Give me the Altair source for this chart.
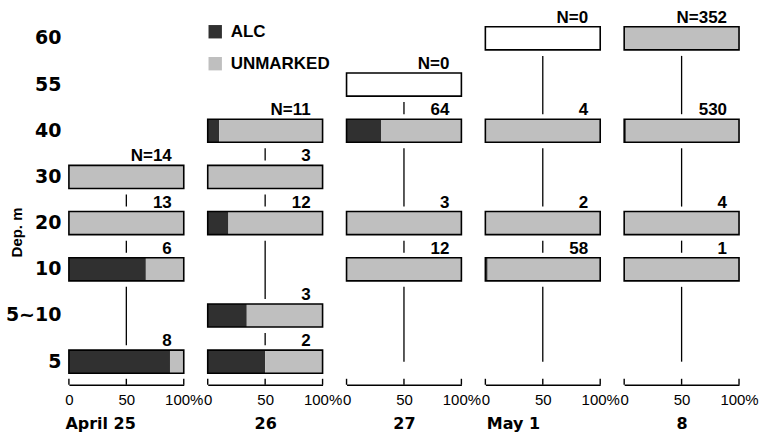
import altair as alt
import pandas as pd

# ---------------- data ----------------
depths = ["60", "55", "40", "30", "20", "10", "5~10", "5"]
types = ["ALC", "UNMARKED"]
x_ticks = [0, 50, 100]

apr25_depth = ["30", "20", "10", "5"]
apr25_n = [14, 13, 6, 8]
apr25_alc = [0, 0, 67, 88]

apr26_depth = ["40", "30", "20", "5~10", "5"]
apr26_n = [11, 3, 12, 3, 2]
apr26_alc = [10, 0, 18, 34, 50]

apr27_depth = ["55", "40", "20", "10"]
apr27_n = [0, 64, 3, 12]
apr27_alc = [0, 30, 0, 0]

may1_depth = ["60", "40", "20", "10"]
may1_n = [0, 4, 2, 58]
may1_alc = [0, 0, 0, 2]

may8_depth = ["60", "40", "20", "10"]
may8_n = [352, 530, 4, 1]
may8_alc = [0, 1.5, 0, 0]

date_titles = ["April    25", "26", "27", "May   1", "8"]

# ---------------- style ----------------
W, H = 115, 370
DARK, LIGHT = "#303030", "#bfbfbf"
FONT = "DejaVu Sans"
FONT2 = "Liberation Sans"

yscale = alt.Scale(domain=depths, paddingInner=0.5, paddingOuter=0.25)
xscale = alt.Scale(domain=[0, 100], nice=False, zero=False)
cscale = alt.Scale(domain=types, range=[DARK, LIGHT])
legend = alt.Legend(title=None, orient="none", legendX=138, legendY=8,
                    symbolType="square", symbolSize=180, symbolStrokeWidth=0,
                    labelFontSize=17, labelFont=FONT2, labelFontWeight="bold",
                    labelColor="black", rowPadding=14, labelOffset=7,
                    padding=0)


def make_panel(idx, dlist, nlist, alist, title, title_x, title_align, show_y):
    yaxis = alt.Axis(title="Dep. m", labelFont=FONT, labelFontSize=19,
                     labelFontWeight="bold", labelColor="black", labelPadding=8,
                     ticks=False, domain=False, titleFont=FONT2, titleFontSize=15,
                     titleFontWeight="bold", titleColor="black", titleAngle=270,
                     titleX=-52, titleY=217, titleAlign="center",
                     titleBaseline="middle") if show_y else None
    xaxis_kw = dict(values=x_ticks, labelExpr="datum.value == 100 ? '100%' : datum.label",
                    labelFlush=False, labelOverlap=False, ticks=False, tickSize=0,
                    domainColor="black", domainWidth=1.5, grid=False,
                    labelFont=FONT2, labelFontSize=15, labelColor="black",
                    labelPadding=8, title=title, titleFont=FONT,
                    titleFontSize=16, titleFontWeight="bold", titleColor="black",
                    titleY=44, titleBaseline="alphabetic")
    if title_x is not None:
        xaxis_kw.update(titleX=title_x, titleAlign=title_align, titleAnchor="start")
    xaxis = alt.Axis(**xaxis_kw)

    seg_rows, frame_rows, lab_rows = [], [], []
    for k, (d, n, a) in enumerate(zip(dlist, nlist, alist)):
        frame_rows.append({"depth": d})
        lab_rows.append({"depth": d, "label": (f"N={n}" if k == 0 else f"{n}")})
        if n > 0:
            seg_rows.append({"depth": d, "type": "ALC", "lo": 0, "hi": a})
            seg_rows.append({"depth": d, "type": "UNMARKED", "lo": a, "hi": 100})
    conn_rows = [{"a": dlist[k], "b": dlist[k + 1]} for k in range(len(dlist) - 1)]
    tail_rows = [{"a": dlist[-1], "b": depths[-1]}] if dlist[-1] != depths[-1] else []

    seg = alt.Chart(pd.DataFrame(seg_rows)).mark_bar().encode(
        x=alt.X("lo:Q", scale=xscale, axis=xaxis),
        x2="hi:Q",
        y=alt.Y("depth:N", scale=yscale, axis=yaxis, sort=depths),
        color=alt.Color("type:N", scale=cscale, legend=legend),
    )
    frame = alt.Chart(pd.DataFrame(frame_rows)).mark_bar(
        fillOpacity=0, stroke="black", strokeWidth=1.6).encode(
        x=alt.datum(0), x2=alt.datum(100),
        y=alt.Y("depth:N", scale=yscale, axis=yaxis, sort=depths),
    )
    conn = alt.Chart(pd.DataFrame(conn_rows, columns=["a", "b"])).mark_rule(
        color="black", strokeWidth=1.3, yOffset=6, y2Offset=-5).encode(
        x=alt.datum(50),
        y=alt.Y("a:N", bandPosition=1, scale=yscale, axis=yaxis, sort=depths),
        y2=alt.Y2("b:N", bandPosition=0),
    )
    layers = [seg, frame, conn]
    if tail_rows:
        tail = alt.Chart(pd.DataFrame(tail_rows)).mark_rule(
            color="black", strokeWidth=1.3, yOffset=6).encode(
            x=alt.datum(50),
            y=alt.Y("a:N", bandPosition=1, scale=yscale, axis=yaxis, sort=depths),
            y2=alt.Y2("b:N", bandPosition=0.5),
        )
        layers.append(tail)
    ticks = alt.Chart(pd.DataFrame({"t": x_ticks})).mark_rule(
        color="black", strokeWidth=1.4).encode(
        x=alt.X("t:Q", scale=xscale, axis=xaxis),
        y=alt.value(H - 6), y2=alt.value(H),
    )
    labels = alt.Chart(pd.DataFrame(lab_rows)).mark_text(
        align="right", baseline="alphabetic", dx=-12, dy=-4, font=FONT2,
        fontSize=17, fontWeight="bold", color="black").encode(
        x=alt.datum(100),
        y=alt.Y("depth:N", bandPosition=0, scale=yscale, axis=yaxis, sort=depths),
        text="label:N",
    )
    layers += [ticks, labels]
    return alt.layer(*layers).properties(width=W, height=H)


panels = [
    make_panel(0, apr25_depth, apr25_n, apr25_alc, date_titles[0], -4, "left", True),
    make_panel(1, apr26_depth, apr26_n, apr26_alc, date_titles[1], None, None, False),
    make_panel(2, apr27_depth, apr27_n, apr27_alc, date_titles[2], None, None, False),
    make_panel(3, may1_depth, may1_n, may1_alc, date_titles[3], 1, "left", False),
    make_panel(4, may8_depth, may8_n, may8_alc, date_titles[4], None, None, False),
]

chart = alt.hconcat(*panels, spacing=24, bounds="flush").resolve_scale(
    color="shared", y="independent", x="independent"
).properties(
    padding={"left": 5, "top": 8, "right": 0, "bottom": 0},
    background="white",
).configure_view(strokeWidth=0)

chart.save("out.html", embed_options={"renderer": "svg", "actions": False})
